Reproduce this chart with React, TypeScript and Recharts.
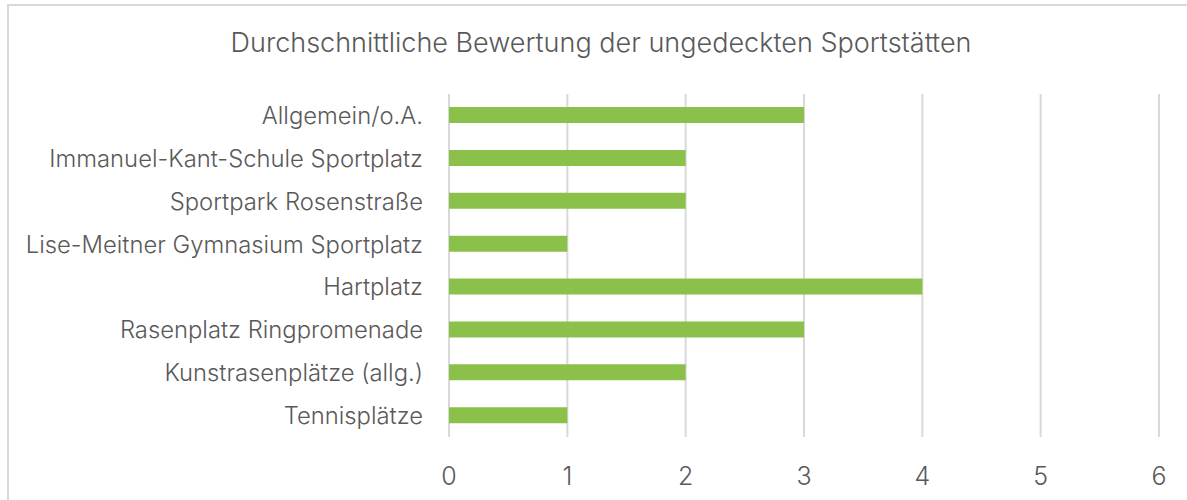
import React from "react";
import { BarChart, Bar, XAxis, YAxis, CartesianGrid } from "recharts";

const categories = [
  "Allgemein/o.A.",
  "Immanuel-Kant-Schule Sportplatz",
  "Sportpark Rosenstraße",
  "Lise-Meitner Gymnasium Sportplatz",
  "Hartplatz",
  "Rasenplatz Ringpromenade ",
  "Kunstrasenplätze (allg.)",
  "Tennisplätze",
];
const ratings = [3, 2, 2, 1, 4, 3, 2, 1];
const xTicks = [0, 1, 2, 3, 4, 5, 6];
const title = "Durchschnittliche Bewertung der ungedeckten Sportstätten";

const data = categories.map((name, i) => ({ name, value: ratings[i] }));

const FONT = "Inter, 'Open Sans', sans-serif";

export default function App() {
  return (
    <div style={{ position: "absolute", left: 0, top: 0, width: 1187, height: 500, overflow: "hidden", background: "#fff" }}>
      <div
        style={{
          position: "absolute",
          left: 7,
          top: 4,
          width: 1200,
          height: 520,
          border: "2px solid #d9d9d9",
          boxSizing: "border-box",
        }}
      />
      <div
        style={{
          position: "absolute",
          left: 0,
          width: 1202,
          top: 25,
          textAlign: "center",
          fontFamily: FONT,
          fontSize: 27,
          fontWeight: 300,
          color: "#595959",
          lineHeight: "36px",
          whiteSpace: "nowrap",
        }}
      >
        {title}
      </div>
      <div style={{ position: "absolute", left: 0, top: 0 }}>
        <BarChart
          width={1187}
          height={500}
          data={data}
          layout="vertical"
          margin={{ top: 94, right: 28, bottom: 3, left: 0 }}
          barSize={16}
        >
          <CartesianGrid horizontal={false} stroke="#d9d9d9" strokeWidth={2} />
          <XAxis
            type="number"
            domain={[0, 6]}
            ticks={xTicks}
            axisLine={false}
            tickLine={false}
            height={60}
            tickMargin={24}
            tick={{ fill: "#595959", fontSize: 25, fontFamily: FONT, fontWeight: 300 }}
            interval={0}
          />
          <YAxis
            type="category"
            dataKey="name"
            width={449}
            axisLine={false}
            tickLine={false}
            tickMargin={20}
            tick={{ fill: "#595959", fontSize: 23.8, fontFamily: FONT, fontWeight: 300 }}
            interval={0}
          />
          <Bar dataKey="value" fill="#8bc14a" isAnimationActive={false} />
        </BarChart>
      </div>
    </div>
  );
}
